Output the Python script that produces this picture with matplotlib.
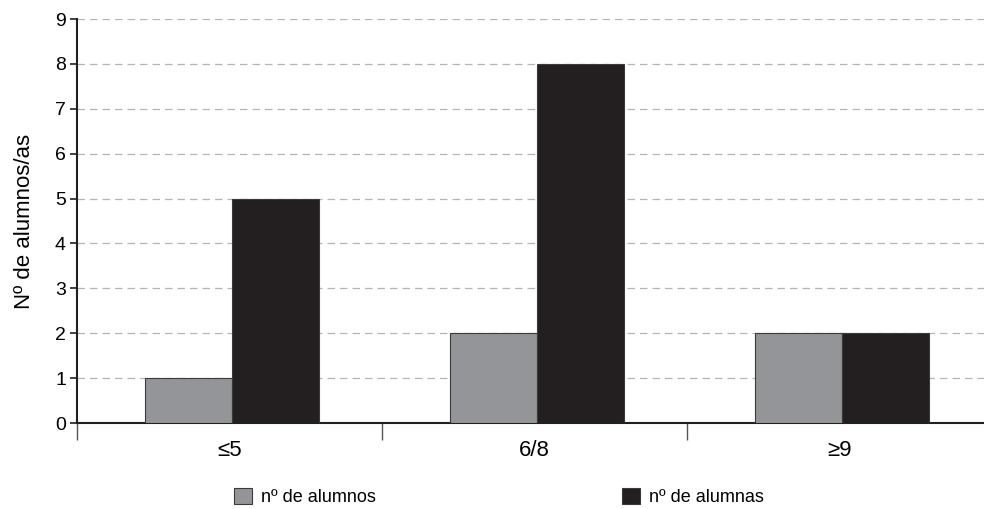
import matplotlib
matplotlib.use("Agg")
import matplotlib.pyplot as plt
import numpy as np
from matplotlib.patches import Patch

plt.rcParams['font.family'] = ['Liberation Sans', 'DejaVu Sans']

categories = ["≤5", "6/8", "≥9"]
alumnos = [1, 2, 2]
alumnas = [5, 8, 2]
series_labels = ["nº de alumnos", "nº de alumnas"]
ylabel = "Nº de alumnos/as"

gray = "#939598"
black = "#231f20"

fig = plt.figure(figsize=(9.84, 5.09), dpi=100)
ax = fig.add_axes([77/984, 86/509, 915/984, 404/509])

x = np.arange(len(categories))
w = 0.285
off = 0.008
ax.bar(x - w/2 + off, alumnos, width=w, color=gray, edgecolor="#3a3a3a", linewidth=0.8, zorder=3)
ax.bar(x + w/2 + off, alumnas, width=w, color=black, edgecolor="#3a3a3a", linewidth=0.8, zorder=3)

ax.set_xlim(-0.5, len(categories) - 0.5)
ax.set_ylim(0, 9)
ax.set_yticks(range(0, 10))
ax.yaxis.grid(True, linestyle=(0, (6, 4)), color="#b5b5b5", linewidth=0.9, zorder=0)
ax.set_axisbelow(True)

ax.set_xticks(x)
ax.set_xticklabels(categories, fontsize=16)
ax.tick_params(axis='x', which='major', length=0, pad=12)
ax.set_xticks(np.arange(-0.5, len(categories) - 0.4, 1), minor=True)
ax.tick_params(axis='x', which='minor', length=12, width=1.0, color="#555555", direction='out')
ax.tick_params(axis='y', length=5, width=1.2, color="#231f20", labelsize=14, pad=3)

for s in ["top", "right"]:
    ax.spines[s].set_visible(False)
ax.spines["left"].set_color("#231f20")
ax.spines["left"].set_linewidth(1.5)
ax.spines["bottom"].set_color("#231f20")
ax.spines["bottom"].set_linewidth(1.5)

ax.set_ylabel(ylabel, fontsize=16)
ax.yaxis.set_label_coords(-0.046, 0.5)

handles = [Patch(facecolor=gray, edgecolor="#3a3a3a", linewidth=0.8),
           Patch(facecolor=black, edgecolor="#3a3a3a", linewidth=0.8)]
fig.legend(handles, series_labels, loc='center', bbox_to_anchor=(499/984, 1 - 497/509),
           ncol=2, frameon=False, fontsize=13, columnspacing=13.6,
           handlelength=1.0, handleheight=1.0, handletextpad=0.5,
           borderpad=0, borderaxespad=0)

fig.savefig("out.png", dpi=100)
